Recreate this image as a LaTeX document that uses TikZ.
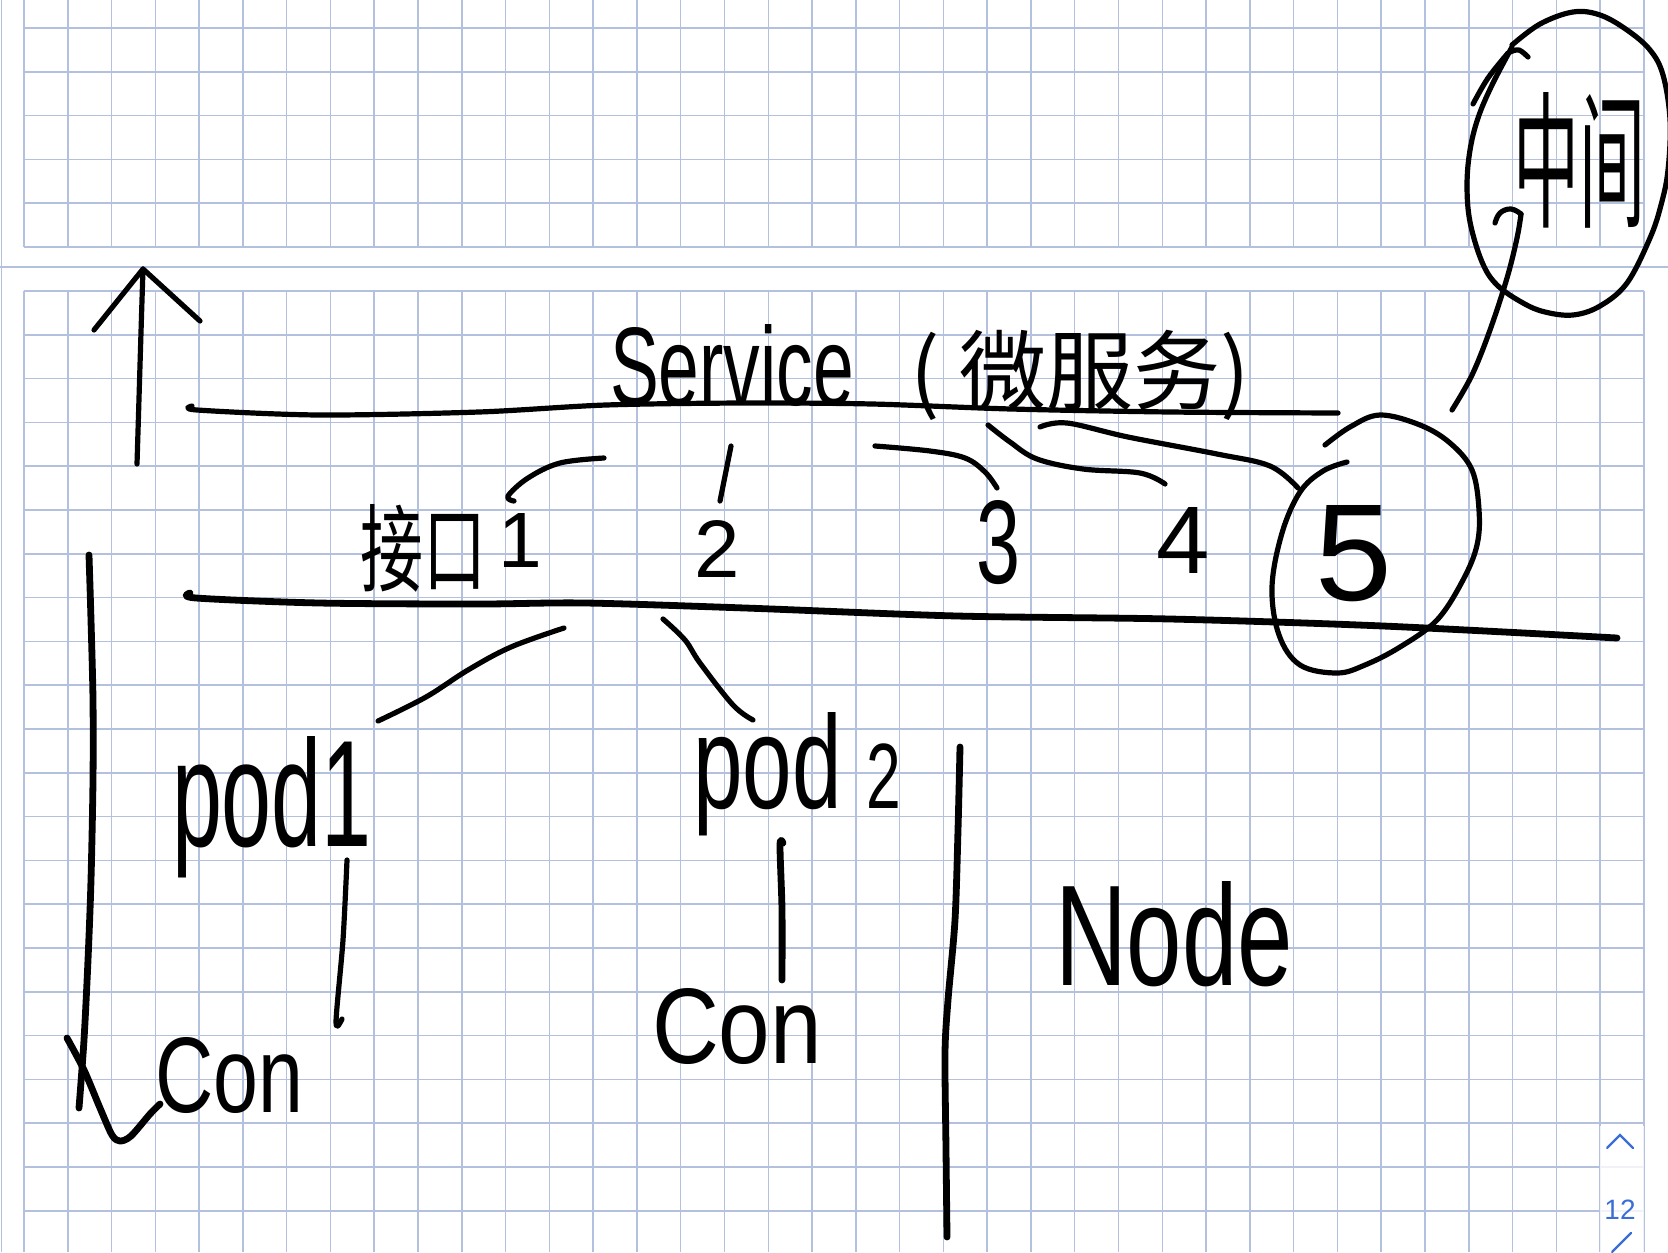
\documentclass[tikz,border=0pt]{standalone}
\usepackage{graphicx}
\usepackage{fontspec}
\setmainfont{Liberation Sans}
\newfontfamily\cjk{Noto Sans CJK SC}
\definecolor{gridc}{RGB}{180,193,222}
\definecolor{pageblue}{RGB}{58,110,214}
\tikzset{
  pen/.style={line width=2.6pt, line cap=round, line join=round},
  thickpen/.style={line width=3.4pt, line cap=round, line join=round},
  hand/.style={inner sep=0pt, outer sep=0pt, text=black},
  gridline/.style={gridc, line width=0.75pt},
}
\newcommand{\hw}[3]{\resizebox{#1}{#2}{#3}}
\begin{document}
\begin{tikzpicture}[x=0.5pt,y=-0.5pt]
\fill[white] (0,0) rectangle (1668,1252);
\useasboundingbox (0,0) rectangle (1668,1252);
% ---------- grid paper ----------
\foreach \i in {0,...,37} {\draw[gridline] ({24+43.78*\i},0) -- ({24+43.78*\i},247);}
\foreach \j in {0,...,5} {\draw[gridline] (24,{28+43.8*\j}) -- (1644,{28+43.8*\j});}
\foreach \i in {0,...,37} {\draw[gridline] ({24+43.78*\i},291) -- ({24+43.78*\i},1252);}
\foreach \j in {0,...,21} {\draw[gridline] (24,{291+43.8*\j}) -- (1644,{291+43.8*\j});}
\draw[gridline] (0,267) -- (1668,267);
\draw[gridline] (1.5,0) -- (1.5,1252);
\fill[white,opacity=0.8] (1600,1126) rectangle (1644,1252);
% ---------- page indicator ----------
\draw[pageblue, line width=1.1pt, line cap=round] (1607,1148) -- (1620,1135) -- (1633,1148);
\node[inner sep=0pt, text=pageblue, font=\fontsize{14}{16}\selectfont] (page) at (1620,1210) {12};
\draw[pageblue, line width=1.1pt, line cap=round] (1612,1252) -- (1631,1233);
% ---------- up arrow ----------
\coordinate (arrB) at (137,464);
\coordinate (arrT) at (143,269);
\draw[pen] (arrB) .. controls (139,400) and (141,330) .. (arrT);
\draw[pen] (94,330) -- (arrT) -- (200,321);
% ---------- service line ----------
\coordinate (svcL) at (197,410);
\coordinate (svcR) at (1338,413);
\draw[pen] plot[smooth, tension=0.5] coordinates {(192,406) (svcL) (319,415) (479,412) (606,405) (745,403) (872,404) (1011,409) (1170,412) (svcR)};
\node[hand, anchor=base west] (svc) at (610,405) {\hw{122pt}{40.5pt}{Service}};
\node[hand] (svccn) at (1080,375) {\hw{170pt}{!}{\cjk ( 微服务)}};
% ---------- ports ----------
\node[hand] (jk) at (423,548) {\hw{63pt}{40pt}{\cjk 接口}};
\node[hand, anchor=base] (p1) at (520,567) {\hw{!}{27pt}{1}};
\node[hand, anchor=base] (p2) at (717,577) {\hw{!}{28.5pt}{2}};
\node[hand, anchor=base] (p3) at (998,583) {\hw{22pt}{41.5pt}{3}};
\node[hand, anchor=base] (p4) at (1183,573) {\hw{!}{33pt}{4}};
\node[hand, anchor=base] (p5) at (1354,600) {\hw{!}{47.5pt}{5}};
% connectors service -> ports
\draw[pen] plot[smooth, tension=0.6] coordinates {(514,501) (508,496) (528,478) (560,463) (604,458)};
\draw[pen] (731,446) -- (720,501);
\draw[pen] plot[smooth, tension=0.6] coordinates {(875,446) (930,451) (965,458) (985,472) (997,488)};
\draw[pen] plot[smooth, tension=0.6] coordinates {(988,425) (1010,442) (1037,459) (1083,469) (1140,473) (1165,484)};
\draw[pen] plot[smooth, tension=0.6] coordinates {(1040,427) (1067,423) (1128,437) (1217,454) (1270,466) (1298,488)};
% circle around 5
\draw[pen] plot[smooth, tension=0.6] coordinates {(1325,445) (1350,427) (1380,415) (1420,425) (1450,443) (1472,470) (1479,510) (1477,545) (1463,580) (1437,620) (1400,647) (1365,665) (1337,673) (1300,665) (1279,635) (1272,587) (1282,533) (1300,492) (1323,471) (1347,462)};
% connector to note circle
\coordinate (noteEnd) at (1521,214);
\draw[pen] plot[smooth, tension=0.6] coordinates {(1452,410) (1472,375) (1490,330) (1507,278) (1517,238) (noteEnd)};
\draw[pen] plot[smooth, tension=0.7] coordinates {(1495,223) (1500,213) (1511,209) (noteEnd)};
% note circle
\draw[pen] plot[smooth, tension=0.6] coordinates {(1512,45) (1540,24) (1573,12) (1600,15) (1627,30) (1650,50) (1663,75) (1670,120) (1668,170) (1661,205) (1650,238) (1627,283) (1600,306) (1573,315) (1545,312) (1523,303) (1497,285) (1482,262) (1470,222) (1467,185) (1470,150) (1478,118) (1492,85) (1512,47)};
\draw[pen] plot[smooth, tension=0.6] coordinates {(1473,104) (1488,78) (1508,53)};
\draw[pen] plot[smooth, tension=0.6] coordinates {(1510,52) (1519,50) (1528,57)};
\node[hand] (note) at (1579,160) {\hw{66pt}{62pt}{\cjk 中间}};
% ---------- node / pod line ----------
\draw[thickpen] plot[smooth, tension=0.5] coordinates {(190,593) (196,598) (319,603) (479,604) (585,603) (745,608) (957,616) (1170,619) (1383,626) (1617,638)};
% left bracket
\coordinate (brT) at (89,555);
\coordinate (brB) at (79,1108);
\draw[thickpen] plot[smooth, tension=0.5] coordinates {(brT) (91,620) (93,700) (93,780) (91,880) (88,960) (84,1040) (brB)};
\draw[thickpen] plot[smooth, tension=0.5] coordinates {(67,1038) (84,1070) (100,1108) (112,1135) (120,1141) (131,1136) (150,1114) (160,1104)};
% pod1
\node[hand, anchor=base west] (pod1) at (172,846) {\hw{100pt}{55pt}{pod1}};
\coordinate (pod1a) at (378,721);
\coordinate (pod1b) at (564,628);
\draw[pen] plot[smooth, tension=0.6] coordinates {(pod1a) (426,697) (468,670) (511,647) (pod1b)};
\coordinate (con1t) at (347,860);
\coordinate (con1b) at (336,1022);
\draw[pen] plot[smooth, tension=0.5] coordinates {(con1t) (343,940) (con1b) (342,1019)};
\node[hand, anchor=base west] (con1) at (155,1112) {\hw{74pt}{37.5pt}{Con}};
% pod2
\node[hand, anchor=base west] (pod2) at (693,808) {\hw{104pt}{48pt}{pod {\fontsize{7}{8}\selectfont 2}}};
\draw[pen] plot[smooth, tension=0.6] coordinates {(663,619) (685,640) (700,663) (733,705) (753,720)};
\draw[thickpen] plot[smooth, tension=0.5] coordinates {(783,843) (780,845) (782,910) (782,980)};
\node[hand, anchor=base west] (con2) at (652,1063) {\hw{85pt}{37.5pt}{Con}};
% node divider
\draw[thickpen] plot[smooth, tension=0.5] coordinates {(960,747) (958,830) (955,920) (948,1000) (945,1053) (946,1150) (947,1237)};
\node[hand, anchor=base west] (node) at (1055,985) {\hw{119pt}{52pt}{Node}};
\end{tikzpicture}
\end{document}
